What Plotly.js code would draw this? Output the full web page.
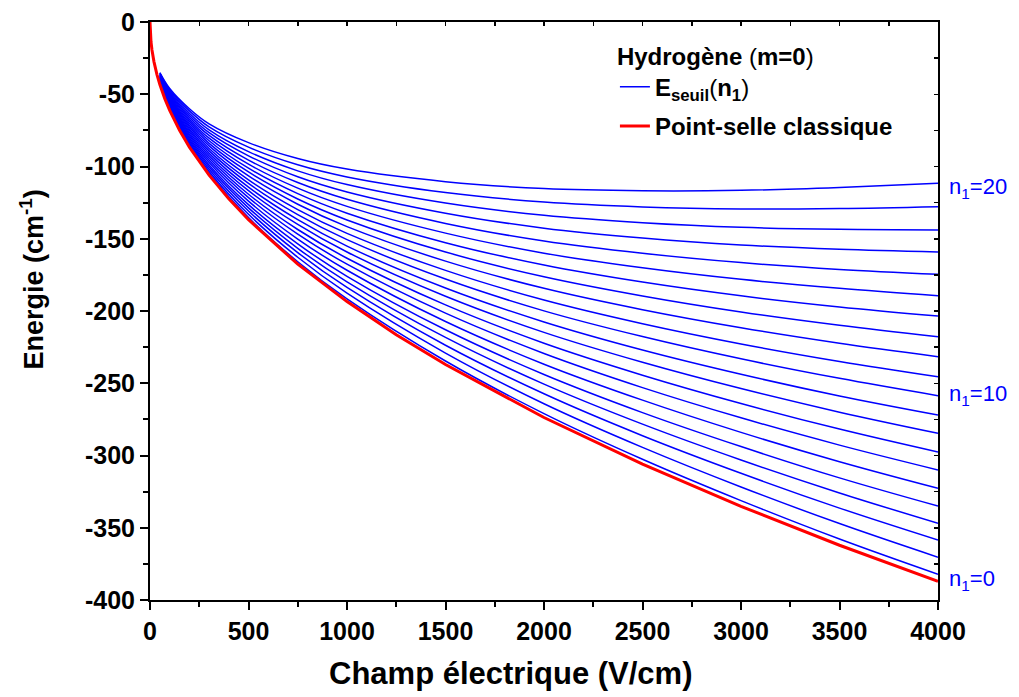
<!DOCTYPE html>
<html>
<head>
<meta charset="utf-8">
<script src="https://cdn.plot.ly/plotly-3.0.1.min.js"></script>
<style>html,body{margin:0;padding:0;background:#fff;}#chart{width:1019px;height:697px;}</style>
</head>
<body>
<div id="chart"></div>
<script>
// Classical saddle point (red)
const fieldRed = [0, 1, 2, 5, 10, 20, 35, 50, 75, 100, 150, 200, 300, 400, 500, 750, 1000, 1250, 1500, 2000, 2500, 3000, 3500, 4000];
const energyRed = [0, -6.1, -8.7, -13.7, -19.4, -27.4, -36.2, -43.3, -53.0, -61.2, -75.0, -86.6, -106.0, -122.4, -136.8, -167.6, -193.5, -216.4, -237.0, -273.7, -306.0, -335.2, -362.1, -387.1];

// Threshold energies E_seuil(n1), field grid (V/cm)
const fieldBlue = [50, 100, 200, 300, 500, 750, 1000, 1500, 2000, 2500, 3000, 3500, 4000];
const n1_0  = [-42.2, -60.3, -85.7, -104.9, -135.4, -165.9, -191.6, -234.6, -271.0, -302.6, -331.2, -357.8, -382.2];
const n1_1  = [-41.9, -59.7, -84.6, -103.4, -133.1, -162.8, -187.7, -229.1, -264.2, -294.4, -321.8, -347.1, -370.4];
const n1_2  = [-41.6, -59.0, -83.4, -101.9, -130.8, -159.6, -183.7, -223.7, -257.3, -286.3, -312.3, -336.4, -358.5];
const n1_3  = [-41.3, -58.4, -82.3, -100.4, -128.6, -156.6, -179.8, -218.3, -250.6, -278.3, -303.1, -325.9, -346.9];
const n1_4  = [-41.0, -57.8, -81.2, -98.9, -126.4, -153.5, -176.0, -213.0, -243.9, -270.3, -293.8, -315.5, -335.0];
const n1_5  = [-40.6, -57.2, -80.1, -97.3, -124.0, -150.2, -171.8, -207.3, -236.8, -261.7, -284.0, -304.3, -322.7];
const n1_6  = [-40.3, -56.5, -78.8, -95.7, -121.5, -146.8, -167.6, -201.5, -229.4, -253.0, -273.9, -292.8, -310.0];
const n1_7  = [-40.0, -55.8, -77.7, -94.1, -119.2, -143.6, -163.5, -195.8, -222.3, -244.4, -264.0, -281.7, -297.6];
const n1_8  = [-39.6, -55.1, -76.4, -92.5, -116.7, -140.1, -159.2, -189.8, -214.8, -235.5, -253.7, -270.0, -284.6];
const n1_9  = [-39.3, -54.5, -75.2, -90.9, -114.3, -136.8, -155.1, -184.1, -207.6, -227.0, -243.8, -258.8, -272.0];
const n1_10 = [-38.9, -53.8, -74.0, -89.2, -111.7, -133.3, -150.6, -177.9, -199.9, -217.7, -233.1, -246.6, -258.6];
const n1_11 = [-38.6, -53.1, -72.7, -87.5, -109.2, -129.8, -146.3, -171.9, -192.4, -208.8, -222.8, -234.9, -245.5];
const n1_12 = [-38.2, -52.3, -71.4, -85.7, -106.5, -126.1, -141.6, -165.5, -184.3, -199.1, -211.6, -222.3, -231.6];
const n1_13 = [-37.8, -51.6, -70.1, -84.0, -103.8, -122.5, -137.0, -159.2, -176.3, -189.6, -200.7, -209.9, -217.8];
const n1_14 = [-37.5, -50.9, -68.7, -82.2, -101.2, -118.8, -132.3, -152.7, -168.2, -180.0, -189.5, -197.2, -203.5];
const n1_15 = [-37.1, -50.1, -67.4, -80.4, -98.4, -115.0, -127.6, -146.1, -160.0, -170.1, -178.1, -184.3, -189.4];
const n1_16 = [-36.7, -49.3, -66.0, -78.5, -95.6, -111.1, -122.7, -139.4, -151.6, -160.1, -166.5, -171.2, -174.6];
const n1_17 = [-36.3, -48.5, -64.5, -76.6, -92.6, -107.1, -117.6, -132.3, -142.7, -149.5, -154.3, -157.3, -159.2];
const n1_18 = [-35.9, -47.7, -63.1, -74.6, -89.7, -103.0, -112.5, -125.3, -133.8, -138.9, -142.1, -143.5, -143.9];
const n1_19 = [-35.4, -46.9, -61.5, -72.6, -86.6, -98.8, -107.2, -118.0, -124.6, -128.0, -129.4, -129.1, -127.8];
const n1_20 = [-35.0, -46.0, -60.0, -70.5, -83.5, -94.5, -101.8, -110.5, -115.3, -116.8, -116.5, -114.5, -111.6];

const blueSeries = [n1_0, n1_1, n1_2, n1_3, n1_4, n1_5, n1_6, n1_7, n1_8, n1_9, n1_10,
                    n1_11, n1_12, n1_13, n1_14, n1_15, n1_16, n1_17, n1_18, n1_19, n1_20];

// Tick labels
const xTickVals = [0, 500, 1000, 1500, 2000, 2500, 3000, 3500, 4000];
const xTickText = ['0', '500', '1000', '1500', '2000', '2500', '3000', '3500', '4000'];
const yTickVals = [0, -50, -100, -150, -200, -250, -300, -350, -400];
const yTickText = ['0', '-50', '-100', '-150', '-200', '-250', '-300', '-350', '-400'];

const labelTexts = ['n<sub>1</sub>=20', 'n<sub>1</sub>=10', 'n<sub>1</sub>=0'];
const labelY = [-115, -258, -386];

const FONT = 'Liberation Sans, Arial, sans-serif';

const traces = [];
blueSeries.forEach((ys, i) => {
  traces.push({
    x: fieldBlue, y: ys, type: 'scatter', mode: 'lines',
    line: {color: '#0000ff', width: 1.5, shape: 'spline', smoothing: 1},
    name: '<b>E<sub>seuil</sub></b>(<b>n<sub>1</sub></b>)',
    legendgroup: 'blue', showlegend: i === 0, hoverinfo: 'skip'
  });
});
traces.push({
  x: fieldRed, y: energyRed, type: 'scatter', mode: 'lines',
  line: {color: '#ff0000', width: 3},
  name: '<b>Point-selle classique</b>', legendgroup: 'red', hoverinfo: 'skip'
});
// dummy trace to register mirror axes
traces.push({x: [], y: [], xaxis: 'x2', yaxis: 'y2', type: 'scatter', mode: 'lines', showlegend: false, hoverinfo: 'skip'});

const annotations = labelTexts.map((t, i) => ({
  x: 4000, y: labelY[i], xref: 'x', yref: 'y', text: t, showarrow: false,
  xanchor: 'left', yanchor: 'middle', xshift: 9,
  font: {family: FONT, size: 22, color: '#0000ff'}
}));
annotations.push({
  xref: 'paper', yref: 'paper', x: 0.457, y: -0.128, xanchor: 'center', yanchor: 'middle',
  text: '<b>Champ électrique (V/cm)</b>', showarrow: false,
  font: {family: FONT, size: 31, color: '#000'}
});
annotations.push({
  xref: 'paper', yref: 'paper', x: -0.15, y: 0.554, xanchor: 'center', yanchor: 'middle',
  text: '<b>Energie (cm<sup>-1</sup>)</b>', showarrow: false, textangle: -90,
  font: {family: FONT, size: 27, color: '#000'}
});

const layout = {
  width: 1019, height: 697,
  margin: {l: 150, r: 81, t: 22, b: 97},
  paper_bgcolor: '#ffffff', plot_bgcolor: '#ffffff',
  showlegend: true,
  legend: {
    x: 0.59, y: 0.98, xanchor: 'left', yanchor: 'top',
    bgcolor: 'rgba(255,255,255,0)', borderwidth: 0,
    font: {family: FONT, size: 24, color: '#000'},
    title: {text: '<b>Hydrogène</b> (<b>m=0</b>)', font: {family: FONT, size: 24, color: '#000'}},
    tracegroupgap: 5
  },
  xaxis: {
    range: [0, 4000], tickvals: xTickVals, ticktext: xTickText.map(t => '<b>' + t + '</b>'),
    ticks: 'outside', ticklen: 8, tickwidth: 2, tickcolor: '#000',
    minor: {dtick: 250, tick0: 0, ticks: 'outside', ticklen: 5, tickwidth: 2, tickcolor: '#000'},
    showline: true, linewidth: 2, linecolor: '#000', showgrid: false, zeroline: false,
    tickfont: {family: FONT, size: 25, color: '#000'}
  },
  yaxis: {
    range: [-400, 0], tickvals: yTickVals, ticktext: yTickText.map(t => '<b>' + t + '</b>'),
    ticks: 'outside', ticklen: 8, tickwidth: 2, tickcolor: '#000',
    minor: {dtick: 25, tick0: 0, ticks: 'outside', ticklen: 5, tickwidth: 2, tickcolor: '#000'},
    showline: true, linewidth: 2, linecolor: '#000', showgrid: false, zeroline: false,
    tickfont: {family: FONT, size: 25, color: '#000'}
  },
  xaxis2: {
    overlaying: 'x', side: 'top', anchor: 'y2', range: [0, 4000], dtick: 250, tick0: 0,
    ticks: 'inside', ticklen: 4, tickwidth: 1.5, tickcolor: '#000',
    showticklabels: false, showline: true, linewidth: 2, linecolor: '#000',
    showgrid: false, zeroline: false
  },
  yaxis2: {
    overlaying: 'y', side: 'right', anchor: 'x2', range: [-400, 0], dtick: 25, tick0: 0,
    ticks: 'inside', ticklen: 4, tickwidth: 1.5, tickcolor: '#000',
    showticklabels: false, showline: true, linewidth: 2, linecolor: '#000',
    showgrid: false, zeroline: false
  },
  annotations: annotations
};

Plotly.newPlot('chart', traces, layout, {displayModeBar: false, staticPlot: true});
</script>
</body>
</html>
